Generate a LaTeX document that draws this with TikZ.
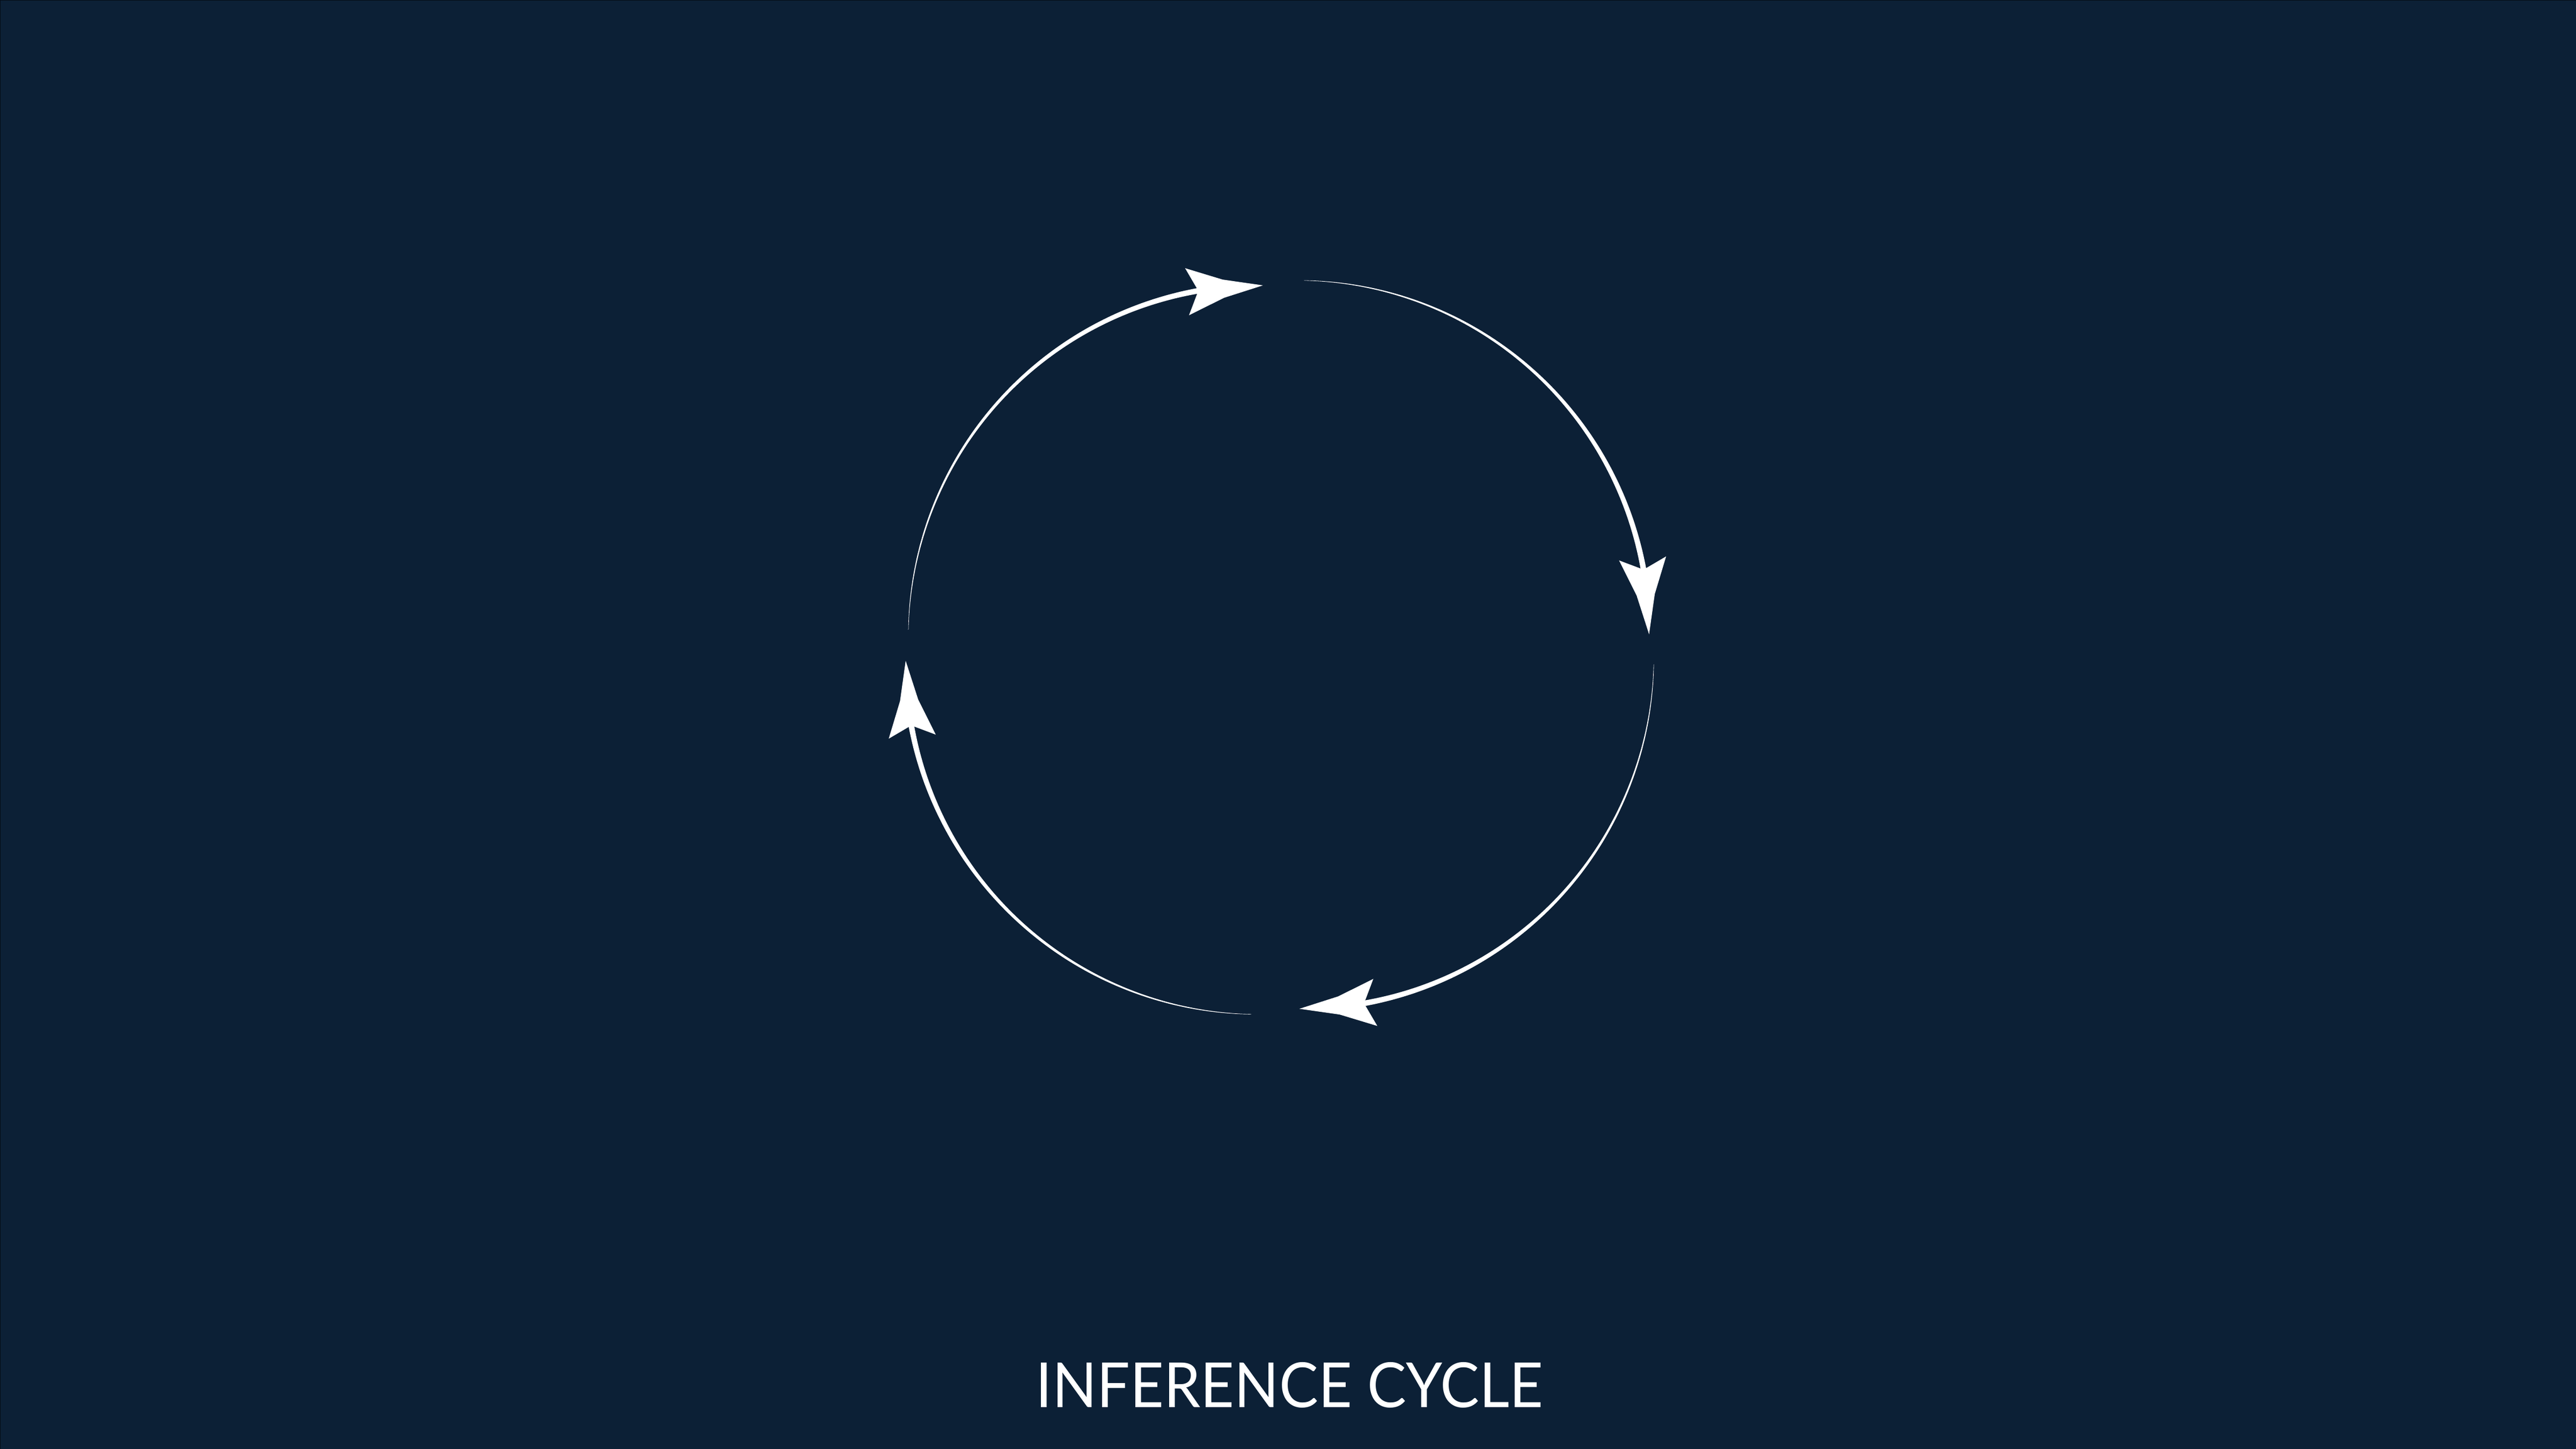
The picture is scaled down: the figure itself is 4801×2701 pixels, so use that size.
\documentclass[tikz,border=0pt]{standalone}
\usepackage{fontspec}
\setmainfont{Lato}
\usepackage{graphicx}
\definecolor{bgnavy}{RGB}{12,32,54}
\definecolor{edgedark}{RGB}{4,12,22}
\tikzset{
  arcfill/.style={fill=white, draw=none},
  headfill/.style={fill=white, draw=none},
  titletext/.style={text=white, inner sep=0pt, anchor=base, font=\fontsize{33pt}{36pt}\selectfont}
}
\begin{document}
\begin{tikzpicture}[x=0.01cm, y=-0.01cm]
  \fill[bgnavy] (0,0) rectangle (4801,2701);
  \useasboundingbox (0,0) rectangle (4801,2701);
  \draw[edgedark, line width=0.012cm] (0.6,2701) -- (0.6,0.6) -- (4801,0.6);
  % four tapered arcs, each ending in an arrowhead
  \foreach \cx/\cy/\ps/\nm in {2347.8/1186.9/-178.87/a, 2418.5/1177.7/-88.99/b, 2427.3/1225.5/1.09/c, 2342.9/1235.7/90.95/d} {
    \fill[arcfill]
      plot[domain=0:1, samples=120, variable=\t]
        ({\cx + (655 + 0.25 + 5.2*\t)*cos(\ps + 83*\t)}, {\cy + (655 + 0.25 + 5.2*\t)*sin(\ps + 83*\t)})
      -- plot[domain=1:0, samples=120, variable=\t]
        ({\cx + (655 - 0.25 - 5.2*\t)*cos(\ps + 83*\t)}, {\cy + (655 - 0.25 - 5.2*\t)*sin(\ps + 83*\t)})
      -- cycle;
    \coordinate (tip\nm) at ({\cx + 655*cos(\ps + 89.4)}, {\cy + 655*sin(\ps + 89.4)});
    \pgfmathsetmacro{\al}{\ps + 174.1}
    \fill[headfill] (tip\nm) -- +(\al+167.06:75.93) -- +(\al+162.78:148.66) -- +(\al+180:121)
      -- +(\al-162.78:148.66) -- +(\al-167.06:75.93) -- cycle;
  }
  \node[titletext] (title) at (2403.5,2623) {\scalebox{0.94}[1]{INFERENCE CYCLE}};
\end{tikzpicture}
\end{document}
